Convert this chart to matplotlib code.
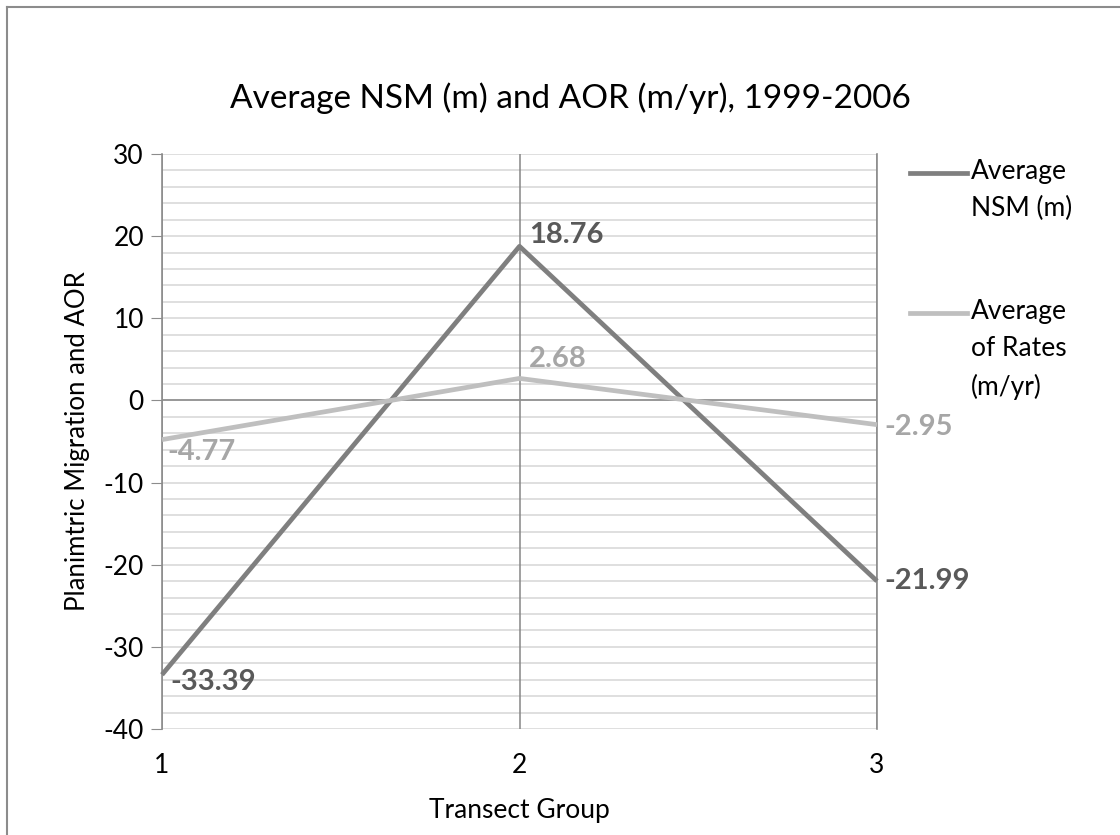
import matplotlib
matplotlib.use("Agg")
import matplotlib.pyplot as plt
from matplotlib.lines import Line2D
import numpy as np

plt.rcParams['font.family'] = ['Lato', 'DejaVu Sans']
plt.rcParams['axes.unicode_minus'] = False

# data
groups = [1, 2, 3]
nsm = [-33.39, 18.76, -21.99]
rates = [-4.77, 2.68, -2.95]
series_names = ["Average\nNSM (m)", "Average\nof Rates\n(m/yr)"]
yticks = list(range(-40, 31, 10))

c_nsm = '#7f7f7f'
c_nsm_lab = '#595959'
c_rate = '#bfbfbf'
c_rate_lab = '#a6a6a6'

fig = plt.figure(figsize=(11.2, 8.35), dpi=100)
ax = fig.add_axes([162/1120, 1-729/835, (877-162)/1120, (729-154)/835])

# chart border (left and top visible)
fig.add_artist(Line2D([7/1120, 7/1120], [0, 1-7/835], color='#8c8c8c', lw=1.5))
fig.add_artist(Line2D([7/1120, 1], [1-7/835, 1-7/835], color='#8c8c8c', lw=1.5))

ax.set_xlim(1, 3)
ax.set_ylim(-40, 30)
ax.set_yticks(yticks)
ax.set_yticks(np.arange(-40, 31, 2), minor=True)
ax.set_xticks(groups)
ax.grid(which='both', axis='y', color='#d9d9d9', lw=1.2, zorder=0)
ax.set_axisbelow(True)
for g in groups:
    ax.axvline(g, color='#868686', lw=1.1, zorder=1)
ax.axhline(0, color='#8c8c8c', lw=1.2, zorder=1)

for s in ['top', 'bottom']:
    ax.spines[s].set_visible(False)
ax.spines['left'].set_color('#8c8c8c')
ax.spines['left'].set_linewidth(1.2)
ax.spines['right'].set_color('#8c8c8c')
ax.spines['right'].set_linewidth(1.2)

ax.tick_params(axis='y', which='major', direction='out', length=8, color='#8c8c8c',
               labelsize=19, pad=5)
ax.tick_params(axis='y', which='minor', length=0)
ax.tick_params(axis='x', length=0, labelsize=19, pad=17)

ax.plot(groups, nsm, color=c_nsm, lw=3.4, solid_capstyle='butt', zorder=3, clip_on=False)
ax.plot(groups, rates, color=c_rate, lw=3.4, solid_capstyle='butt', zorder=3, clip_on=False)

# data labels
lab_kw = dict(fontsize=21, fontweight='bold', textcoords='offset points')
ax.annotate(f"{nsm[0]:.2f}", (groups[0], nsm[0]), xytext=(6, -5), color=c_nsm_lab,
            ha='left', va='center', **lab_kw)
ax.annotate(f"{nsm[1]:.2f}", (groups[1], nsm[1]), xytext=(7, 8), color=c_nsm_lab,
            ha='left', va='center', **lab_kw)
ax.annotate(f"{nsm[2]:.2f}", (groups[2], nsm[2]), xytext=(5, 0), color=c_nsm_lab,
            ha='left', va='center', **lab_kw)
ax.annotate(f"{rates[0]:.2f}", (groups[0], rates[0]), xytext=(4, -9), color=c_rate_lab,
            ha='left', va='center', **lab_kw)
ax.annotate(f"{rates[1]:.2f}", (groups[1], rates[1]), xytext=(7, 14), color=c_rate_lab,
            ha='left', va='center', **lab_kw)
ax.annotate(f"{rates[2]:.2f}", (groups[2], rates[2]), xytext=(5, -2), color=c_rate_lab,
            ha='left', va='center', **lab_kw)

ax.set_ylabel("Planimtric Migration and AOR", fontsize=18.5, labelpad=10)
ax.set_xlabel("Transect Group", fontsize=19, labelpad=15)
fig.text(570/1120, 1-98/835, "Average NSM (m) and AOR (m/yr), 1999-2006",
         fontsize=24, ha='center', va='center')

# legend drawn by hand, marker level with the first text line
for name, col, ly in zip(series_names, [c_nsm, c_rate], [173, 313]):
    fig.add_artist(Line2D([910/1120, 967/1120], [1-ly/835, 1-ly/835], color=col, lw=3.4))
    fig.text(971/1120, 1-(ly-14)/835, name, fontsize=19, ha='left', va='top',
             linespacing=1.6)

fig.savefig("out.png", dpi=100)
